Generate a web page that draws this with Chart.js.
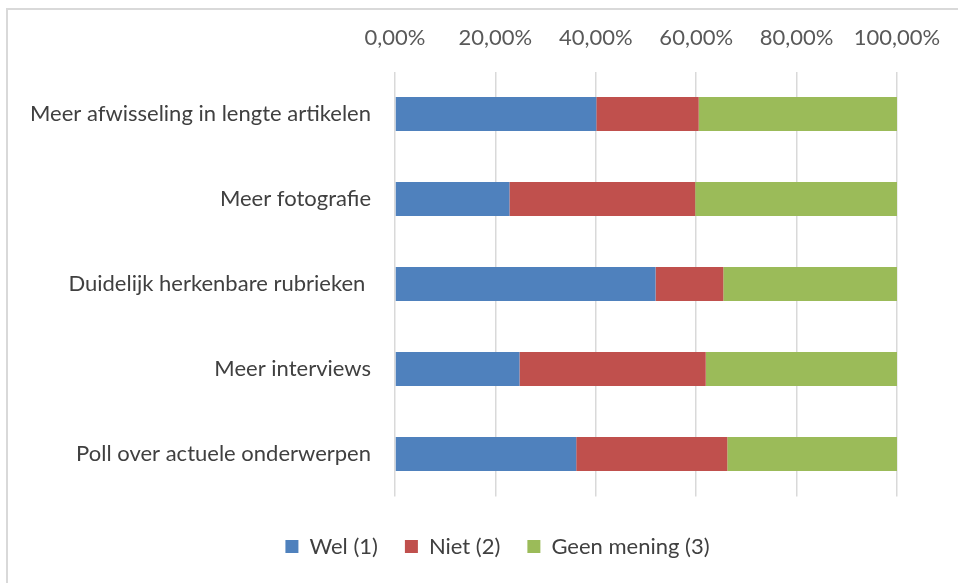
<!DOCTYPE html>
<html>
<head>
<meta charset="utf-8">
<script src="https://cdn.jsdelivr.net/npm/chart.js@4.4.1/dist/chart.umd.min.js"></script>
<style>
  html, body { margin: 0; padding: 0; background: #fff; }
  #wrap { position: relative; width: 958px; height: 583px; overflow: hidden; }
  #frame { position: absolute; left: 6px; top: 8px; width: 1200px; height: 1200px; border: 2px solid #d9d9d9; box-sizing: border-box; }
  canvas { position: absolute; left: 0; top: 0; }
</style>
</head>
<body>
<div id="wrap">
  <div id="frame"></div>
  <canvas id="c" width="958" height="583"></canvas>
</div>
<script>
const categories = [
  "Meer afwisseling in lengte artikelen",
  "Meer fotografie",
  "Duidelijk herkenbare rubrieken ",
  "Meer interviews",
  "Poll over actuele onderwerpen"
];
const seriesNames = ["Wel (1)", "Niet (2)", "Geen mening (3)"];
const wel = [40.1, 22.8, 51.9, 24.8, 36.1];
const niet = [20.4, 37.0, 13.5, 37.1, 30.1];
const geenMening = [39.5, 40.2, 34.6, 38.1, 33.8];
const xTicks = [0, 20, 40, 60, 80, 100];

const colors = ["#4F81BD", "#C0504D", "#9BBB59"];
const FONT = "Lato";
const FS = 22;

const legendFix = {
  id: 'legendFix',
  beforeLayout(chart) {
    const lg = chart.legend;
    if (lg && !lg._patched) {
      const orig = lg.fit;
      lg.fit = function () { orig.call(this); this.height = 86.5; };
      lg._patched = true;
    }
  },
  afterLayout(chart) {
    const lg = chart.legend;
    if (lg) { lg.top += 12; lg.bottom += 12; lg.left += 49; lg.right += 49; }
  }
};

new Chart(document.getElementById('c'), {
  type: 'bar',
  data: {
    labels: categories,
    datasets: [wel, niet, geenMening].map((d, i) => ({
      label: seriesNames[i],
      data: d,
      backgroundColor: colors[i],
      borderWidth: 0,
      barPercentage: 0.4,
      categoryPercentage: 1.0
    }))
  },
  options: {
    indexAxis: 'y',
    responsive: false,
    animation: false,
    layout: { padding: { left: 0, right: 61, top: 0, bottom: 0 } },
    scales: {
      x: {
        position: 'top',
        stacked: true,
        min: 0,
        max: 100,
        afterBuildTicks(scale) { scale.ticks = xTicks.map(v => ({ value: v })); },
        afterFit(scale) { scale.height = 71.5; scale.paddingLeft = 0; scale.paddingRight = 0; },
        grid: { color: '#d9d9d9', lineWidth: 1.5, drawTicks: false },
        border: { display: false },
        ticks: {
          padding: 20,
          color: '#595959',
          font: { family: FONT, size: FS },
          callback: v => v.toFixed(2).replace('.', ',') + '%'
        }
      },
      y: {
        stacked: true,
        afterFit(scale) { scale.width = 395; },
        grid: { display: false, drawTicks: false },
        border: { display: false },
        ticks: {
          padding: 24,
          color: '#404040',
          font: { family: FONT, size: FS }
        }
      }
    },
    plugins: {
      legend: {
        position: 'bottom',
        labels: {
          boxWidth: 13,
          boxHeight: 13,
          padding: 27,
          color: '#404040',
          font: { family: FONT, size: FS }
        }
      },
      tooltip: { enabled: false }
    }
  },
  plugins: [legendFix]
});
</script>
</body>
</html>
